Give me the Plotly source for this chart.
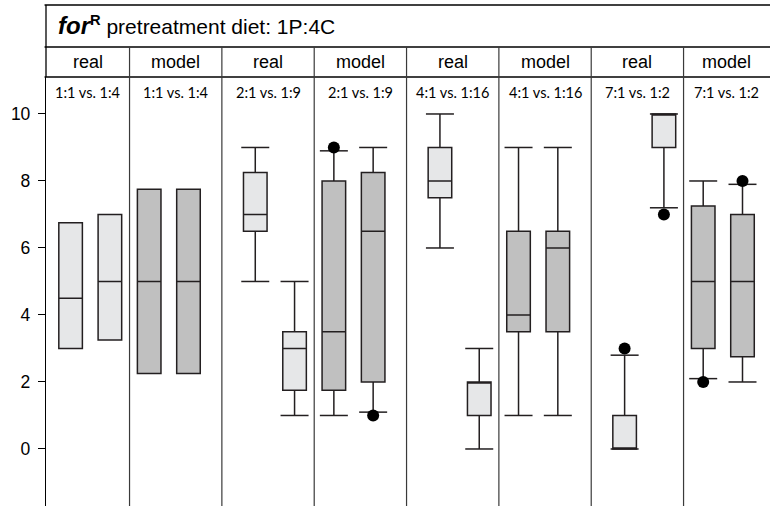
import plotly.graph_objects as go

# ---- data -------------------------------------------------------------
ratios = ["1:1 vs. 1:4", "2:1 vs. 1:9", "4:1 vs. 1:16", "7:1 vs. 1:2"]
sources = ["real", "model"]

# one entry per box, four boxes per ratio (real, real, model, model)
q1 = [3.0, 3.25, 2.25, 2.25, 6.5, 1.75, 1.75, 2.0, 7.5, 1.0, 3.5, 3.5, 0.0, 9.0, 3.0, 2.75]
median = [4.5, 5.0, 5.0, 5.0, 7.0, 3.0, 3.5, 6.5, 8.0, 2.0, 4.0, 6.0, 0.0, 10.0, 5.0, 5.0]
q3 = [6.75, 7.0, 7.75, 7.75, 8.25, 3.5, 8.0, 8.25, 9.0, 2.0, 6.5, 6.5, 1.0, 10.0, 7.25, 7.0]
whisker_lo = [None, None, None, None, 5.0, 1.0, 1.0, 1.1, 6.0, 0.0, 1.0, 1.0, 0.0, 7.2, 2.1, 2.0]
whisker_hi = [None, None, None, None, 9.0, 5.0, 8.9, 9.0, 10.0, 3.0, 9.0, 9.0, 2.8, 10.0, 8.0, 7.9]
outliers = {6: [9.0], 7: [1.0], 12: [3.0], 13: [7.0], 14: [2.0], 15: [8.0]}

y_ticks = [0, 2, 4, 6, 8, 10]

# ---- layout constants -------------------------------------------------
W, H = 770, 506
M_L, M_T = 46, 77
GROUP_STRIDE = 4.7          # x units between ratio groups (one unit per box slot)
X_MIN, X_MAX = -0.626, 17.80
Y_MIN, Y_MAX = -1.702, 11.104
BOX_W = 0.6
CAP_SIZE = 20               # line-ew markers are 1.4x their size long
LINE = "#231f20"
FILL = {"real": "#e6e7e8", "model": "#c0c0c0"}
SANS = "Liberation Sans, Arial, sans-serif"
LABEL_FONT = "Lato, sans-serif"

plot_h = H - M_T


def px_to_paper_y(py):
    return (H - py) / plot_h


def x_to_paper(xd):
    return (xd - X_MIN) / (X_MAX - X_MIN)


box_x = [g * GROUP_STRIDE + i for g in range(len(ratios)) for i in range(4)]
box_src = [sources[i // 2] for g in range(len(ratios)) for i in range(4)]

fig = go.Figure()

for src in sources:
    idx = [k for k, s in enumerate(box_src) if s == src]
    fig.add_trace(go.Box(
        x=[box_x[k] for k in idx],
        q1=[q1[k] for k in idx],
        median=[median[k] for k in idx],
        q3=[q3[k] for k in idx],
        lowerfence=[whisker_lo[k] if whisker_lo[k] is not None else q1[k] for k in idx],
        upperfence=[whisker_hi[k] if whisker_hi[k] is not None else q3[k] for k in idx],
        width=BOX_W,
        whiskerwidth=0,
        fillcolor=FILL[src],
        line=dict(color=LINE, width=1.5),
        boxpoints=False,
        showlegend=False,
        hoverinfo="skip",
    ))

# whisker caps (wider than the boxes)
cap_x, cap_y = [], []
for k in range(len(box_x)):
    for w in (whisker_lo[k], whisker_hi[k]):
        if w is not None:
            cap_x.append(box_x[k])
            cap_y.append(w)
fig.add_trace(go.Scatter(
    x=cap_x, y=cap_y, mode="markers",
    marker=dict(symbol="line-ew", size=CAP_SIZE, line=dict(color=LINE, width=1.5)),
    showlegend=False, hoverinfo="skip",
))

# outliers
out_x = [box_x[k] for k, vals in outliers.items() for _ in vals]
out_y = [v for vals in outliers.values() for v in vals]
fig.add_trace(go.Scatter(
    x=out_x, y=out_y, mode="markers",
    marker=dict(symbol="circle", size=12, color="#000000"),
    showlegend=False, hoverinfo="skip",
))

# ---- frame, dividers and header cells ---------------------------------
shapes = []
y_top = px_to_paper_y(5)
y_row = px_to_paper_y(47)
y_plot_top = px_to_paper_y(77)

for yy in (y_top, y_row, y_plot_top):
    shapes.append(dict(type="line", xref="paper", yref="paper",
                       x0=-0.002, x1=1.0, y0=yy, y1=yy,
                       line=dict(color="#000000", width=1.3)))
shapes.append(dict(type="line", xref="paper", yref="paper",
                   x0=0, x1=0, y0=1.0, y1=y_top,
                   line=dict(color="#000000", width=1.3)))

dividers = []
for g in range(len(ratios)):
    dividers.append(g * GROUP_STRIDE + 1.5)
    if g < len(ratios) - 1:
        dividers.append(g * GROUP_STRIDE + 3.85)
dividers.sort()
for d in dividers:
    shapes.append(dict(type="line", xref="paper", yref="paper",
                       x0=x_to_paper(d), x1=x_to_paper(d), y0=0, y1=y_row,
                       line=dict(color="#3a3a3a", width=1.2)))

bounds = [X_MIN] + dividers + [X_MAX]
annotations = []
for c in range(len(bounds) - 1):
    cx = x_to_paper((bounds[c] + bounds[c + 1]) / 2)
    annotations.append(dict(x=cx, y=px_to_paper_y(62), xref="paper", yref="paper",
                            text=sources[c % 2], showarrow=False,
                            font=dict(family=SANS, size=18, color="#000000"),
                            xanchor="center", yanchor="middle"))
    annotations.append(dict(x=cx, y=px_to_paper_y(92), xref="paper", yref="paper",
                            text=ratios[c // 2], showarrow=False,
                            font=dict(family=LABEL_FONT, size=14.5, color="#000000"),
                            xanchor="center", yanchor="middle"))

annotations.append(dict(
    x=(56 - M_L) / (W - M_L), y=px_to_paper_y(26), xref="paper", yref="paper",
    text="<b><i><span style='font-size:24px'>for</span></i></b><sup><b>R</b></sup> pretreatment diet: 1P:4C",
    showarrow=False, xanchor="left", yanchor="middle",
    font=dict(family=SANS, size=21, color="#000000"),
))

fig.update_layout(
    width=W, height=H,
    margin=dict(l=M_L, r=0, t=M_T, b=0, pad=0),
    paper_bgcolor="#ffffff", plot_bgcolor="#ffffff",
    shapes=shapes, annotations=annotations,
    xaxis=dict(range=[X_MIN, X_MAX], visible=False, fixedrange=True),
    yaxis=dict(range=[Y_MIN, Y_MAX], tickvals=y_ticks, ticks="outside", ticklen=7,
               tickcolor="#000000", tickwidth=1.2, ticklabelstandoff=4,
               showline=True, linecolor="#000000", linewidth=1.3,
               showgrid=False, zeroline=False,
               tickfont=dict(family=SANS, size=17.5, color="#000000")),
)

fig.write_html("out.html")
